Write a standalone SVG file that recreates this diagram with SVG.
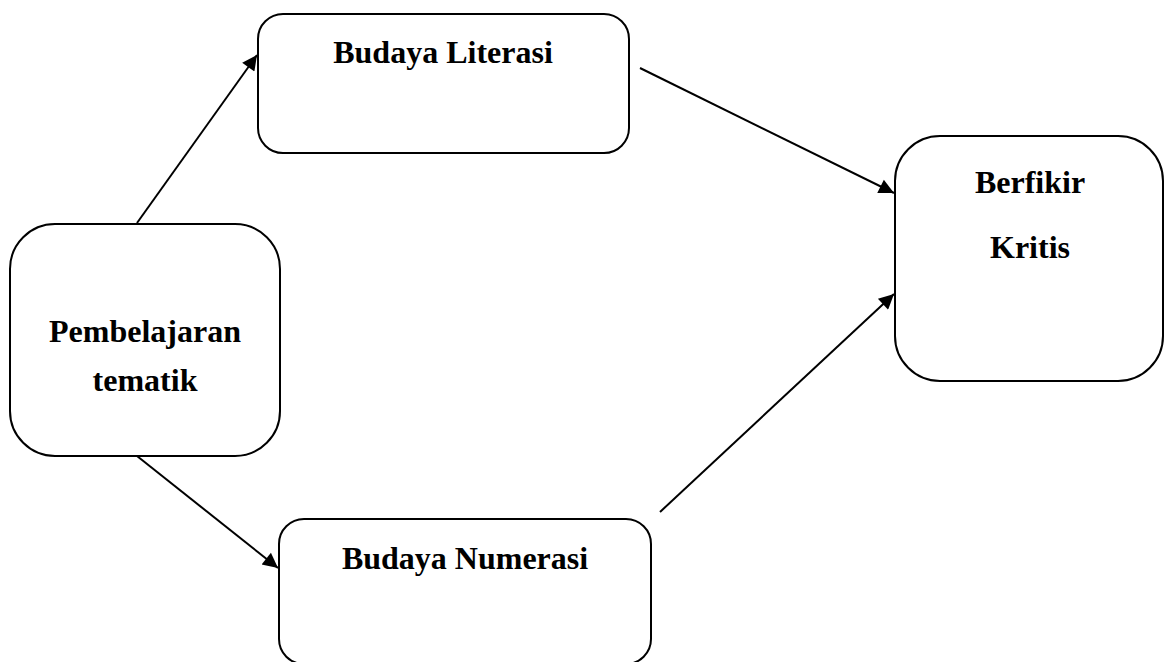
<svg xmlns="http://www.w3.org/2000/svg" width="1169" height="662" viewBox="0 0 1169 662">
<style>
.box{fill:#fff;stroke:#000;stroke-width:2}
.lbl{font-family:"Liberation Serif","Times New Roman",serif;font-weight:bold;font-size:32px;fill:#000;text-anchor:middle}
.con{stroke:#000;stroke-width:2;fill:none;marker-end:url(#ah)}
</style>
<defs>
<marker id="ah" viewBox="0 0 10 10" refX="10" refY="5" markerWidth="9" markerHeight="7.5" markerUnits="strokeWidth" orient="auto">
<path d="M0,0 L10,5 L0,10 z" fill="#000"/>
</marker>
</defs>
<rect width="1169" height="662" fill="#fff"/>
<g id="connectors">
<line class="con" x1="137" y1="223" x2="257" y2="55"/>
<line class="con" x1="137" y1="456" x2="278" y2="568"/>
<line class="con" x1="640" y1="68" x2="894" y2="193"/>
<line class="con" x1="660" y1="512" x2="894" y2="294"/>
</g>
<g id="node-literasi">
<rect class="box" x="258" y="14" width="371" height="139" rx="25"/>
<text class="lbl" x="443" y="63">Budaya Literasi</text>
</g>
<g id="node-pembelajaran">
<rect class="box" x="10" y="224" width="270" height="232" rx="45"/>
<text class="lbl" x="145" y="342">Pembelajaran</text>
<text class="lbl" x="145" y="391">tematik</text>
</g>
<g id="node-berfikir">
<rect class="box" x="895" y="136" width="268" height="245" rx="45"/>
<text class="lbl" x="1030" y="193">Berfikir</text>
<text class="lbl" x="1030" y="258">Kritis</text>
</g>
<g id="node-numerasi">
<rect class="box" x="279" y="519" width="372" height="145" rx="25"/>
<text class="lbl" x="465" y="569">Budaya Numerasi</text>
</g>
</svg>
